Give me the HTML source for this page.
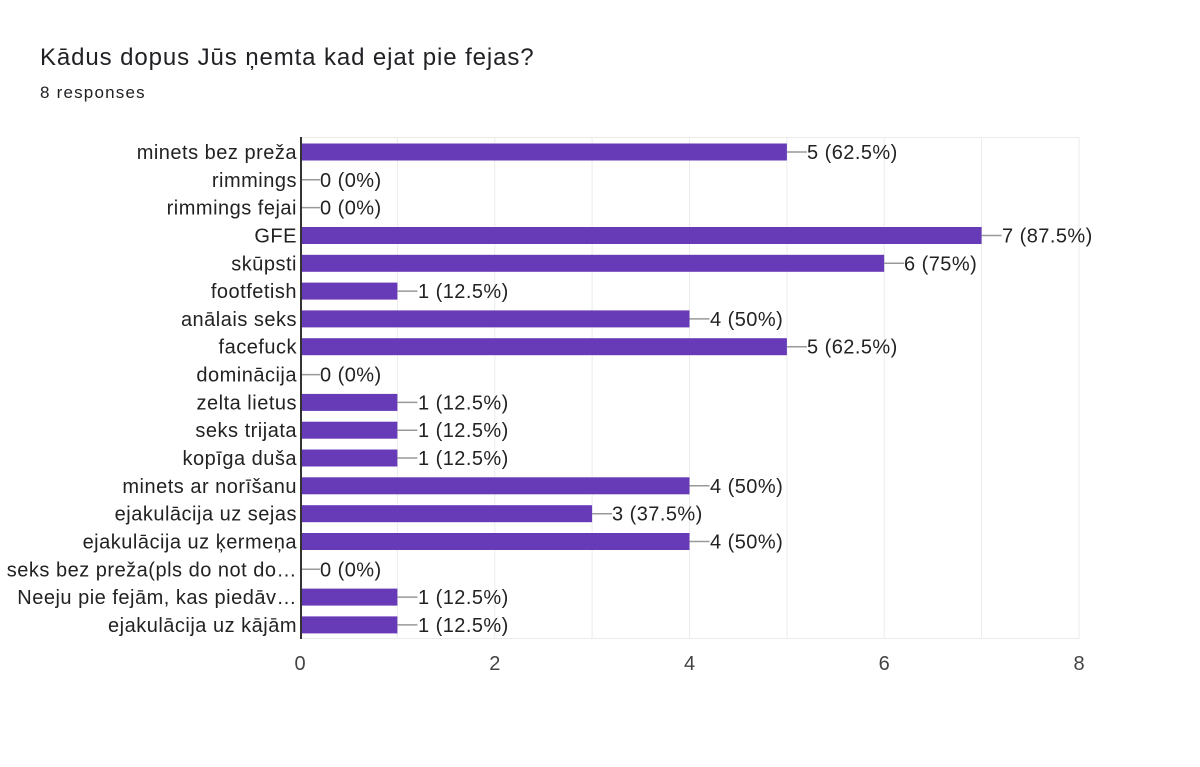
<!DOCTYPE html>
<html><head><meta charset="utf-8"><style>
body{margin:0;background:#fff;}
svg{display:block;font-family:"Liberation Sans",Arial,sans-serif;}
.l{font-size:20px;fill:#222;text-anchor:end;letter-spacing:0.5px}
.v{font-size:20px;fill:#222;letter-spacing:0.45px}
.g{stroke:#ebebeb;stroke-width:1}
.k{stroke:#999;stroke-width:1.5}
</style></head><body>
<svg width="1200" height="767" viewBox="0 0 1200 767">
<rect width="1200" height="767" fill="#fff"/>
<text x="40" y="65" font-size="24" fill="#202124" letter-spacing="0.9">Kādus dopus Jūs ņemta kad ejat pie fejas?</text>
<text x="40" y="98" font-size="17" fill="#202124" letter-spacing="1.2">8 responses</text>
<g class="g">
<line x1="300" y1="137.5" x2="1079" y2="137.5"/>
<line x1="300" y1="638.5" x2="1079" y2="638.5"/>
<line x1="397.4" y1="137" x2="397.4" y2="639"/>
<line x1="494.8" y1="137" x2="494.8" y2="639"/>
<line x1="592.1" y1="137" x2="592.1" y2="639"/>
<line x1="689.5" y1="137" x2="689.5" y2="639"/>
<line x1="786.9" y1="137" x2="786.9" y2="639"/>
<line x1="884.2" y1="137" x2="884.2" y2="639"/>
<line x1="981.6" y1="137" x2="981.6" y2="639"/>
<line x1="1079" y1="137" x2="1079" y2="639"/>
</g>
<g fill="#673ab7">
<rect x="301" y="143.5" width="485.9" height="17"/>
<rect x="301" y="227" width="680.6" height="17"/>
<rect x="301" y="254.8" width="583.2" height="17"/>
<rect x="301" y="282.6" width="96.4" height="17"/>
<rect x="301" y="310.4" width="388.5" height="17"/>
<rect x="301" y="338.2" width="485.9" height="17"/>
<rect x="301" y="393.9" width="96.4" height="17"/>
<rect x="301" y="421.7" width="96.4" height="17"/>
<rect x="301" y="449.5" width="96.4" height="17"/>
<rect x="301" y="477.3" width="388.5" height="17"/>
<rect x="301" y="505.2" width="291.1" height="17"/>
<rect x="301" y="533" width="388.5" height="17"/>
<rect x="301" y="588.6" width="96.4" height="17"/>
<rect x="301" y="616.4" width="96.4" height="17"/>
</g>
<line x1="301" y1="137" x2="301" y2="639" stroke="#333" stroke-width="2"/>
<g class="k">
<line x1="786.9" y1="152" x2="806.9" y2="152"/>
<line x1="302" y1="179.8" x2="320" y2="179.8"/>
<line x1="302" y1="207.6" x2="320" y2="207.6"/>
<line x1="981.6" y1="235.5" x2="1001.6" y2="235.5"/>
<line x1="884.2" y1="263.3" x2="904.2" y2="263.3"/>
<line x1="397.4" y1="291.1" x2="417.4" y2="291.1"/>
<line x1="689.5" y1="318.9" x2="709.5" y2="318.9"/>
<line x1="786.9" y1="346.7" x2="806.9" y2="346.7"/>
<line x1="302" y1="374.6" x2="320" y2="374.6"/>
<line x1="397.4" y1="402.4" x2="417.4" y2="402.4"/>
<line x1="397.4" y1="430.2" x2="417.4" y2="430.2"/>
<line x1="397.4" y1="458" x2="417.4" y2="458"/>
<line x1="689.5" y1="485.8" x2="709.5" y2="485.8"/>
<line x1="592.1" y1="513.7" x2="612.1" y2="513.7"/>
<line x1="689.5" y1="541.5" x2="709.5" y2="541.5"/>
<line x1="302" y1="569.3" x2="320" y2="569.3"/>
<line x1="397.4" y1="597.1" x2="417.4" y2="597.1"/>
<line x1="397.4" y1="624.9" x2="417.4" y2="624.9"/>
</g>
<g class="v">
<text x="807" y="159">5 (62.5%)</text>
<text x="320" y="186.8">0 (0%)</text>
<text x="320" y="214.6">0 (0%)</text>
<text x="1002" y="242.5">7 (87.5%)</text>
<text x="904" y="270.3">6 (75%)</text>
<text x="418" y="298.1">1 (12.5%)</text>
<text x="710" y="325.9">4 (50%)</text>
<text x="807" y="353.7">5 (62.5%)</text>
<text x="320" y="381.6">0 (0%)</text>
<text x="418" y="409.4">1 (12.5%)</text>
<text x="418" y="437.2">1 (12.5%)</text>
<text x="418" y="465">1 (12.5%)</text>
<text x="710" y="492.8">4 (50%)</text>
<text x="612" y="520.7">3 (37.5%)</text>
<text x="710" y="548.5">4 (50%)</text>
<text x="320" y="576.3">0 (0%)</text>
<text x="418" y="604.1">1 (12.5%)</text>
<text x="418" y="631.9">1 (12.5%)</text>
</g>
<g class="l">
<text x="297" y="159">minets bez preža</text>
<text x="297" y="186.8">rimmings</text>
<text x="297" y="214.6">rimmings fejai</text>
<text x="297" y="242.5">GFE</text>
<text x="297" y="270.3">skūpsti</text>
<text x="297" y="298.1">footfetish</text>
<text x="297" y="325.9">anālais seks</text>
<text x="297" y="353.7">facefuck</text>
<text x="297" y="381.6">dominācija</text>
<text x="297" y="409.4">zelta lietus</text>
<text x="297" y="437.2">seks trijata</text>
<text x="297" y="465">kopīga duša</text>
<text x="297" y="492.8">minets ar norīšanu</text>
<text x="297" y="520.7">ejakulācija uz sejas</text>
<text x="297" y="548.5">ejakulācija uz ķermeņa</text>
<text x="297" y="576.3">seks bez preža(pls do not do…</text>
<text x="297" y="604.1">Neeju pie fejām, kas piedāv…</text>
<text x="297" y="631.9">ejakulācija uz kājām</text>
</g>
<g font-size="20" fill="#444" text-anchor="middle">
<text x="300" y="670">0</text>
<text x="494.8" y="670">2</text>
<text x="689.5" y="670">4</text>
<text x="884.2" y="670">6</text>
<text x="1079" y="670">8</text>
</g>
</svg>
</body></html>
